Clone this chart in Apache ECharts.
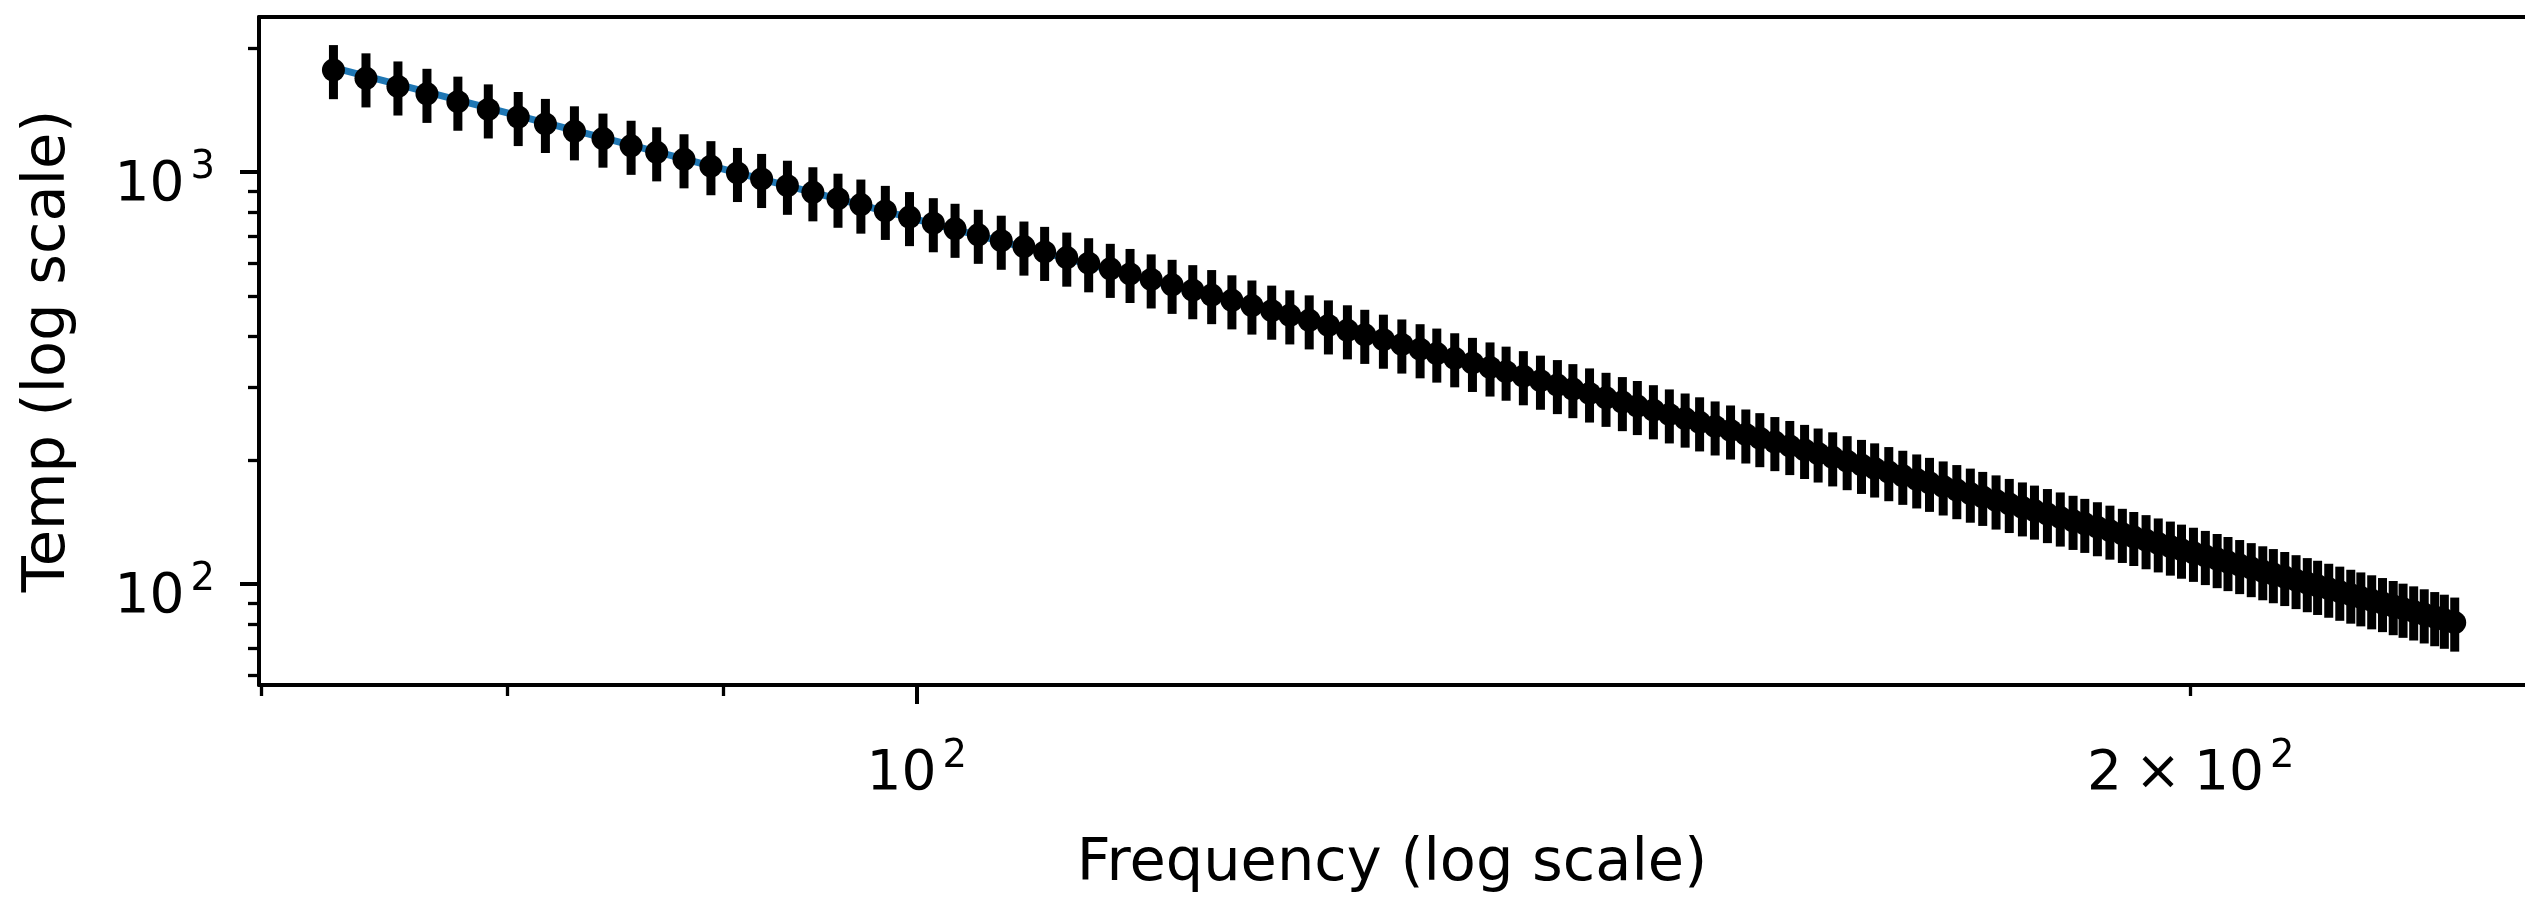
<!DOCTYPE html>
<html><head><meta charset="utf-8">
<script src="https://cdn.jsdelivr.net/npm/echarts@6/dist/echarts.min.js"></script>
<style>html,body{margin:0;padding:0;background:#fff}#c{width:2525px;height:899px}</style>
</head><body><div id="c"></div>
<script>
// ---- data ----
const freq = [72.8,74.1,75.4,76.6,77.9,79.2,80.5,81.7,83.0,84.3,
85.6,86.8,88.1,89.4,90.7,91.9,93.2,94.5,95.8,97.0,
98.3,99.6,100.9,102.1,103.4,104.7,106.0,107.2,108.5,109.8,
111.1,112.3,113.6,114.9,116.2,117.4,118.7,120.0,121.3,122.5,
123.8,125.1,126.4,127.6,128.9,130.2,131.5,132.7,134.0,135.3,
136.6,137.8,139.1,140.4,141.7,142.9,144.2,145.5,146.8,148.0,
149.3,150.6,151.9,153.1,154.4,155.7,157.0,158.2,159.5,160.8,
162.1,163.3,164.6,165.9,167.2,168.4,169.7,171.0,172.3,173.5,
174.8,176.1,177.4,178.6,179.9,181.2,182.5,183.7,185.0,186.3,
187.6,188.8,190.1,191.4,192.7,193.9,195.2,196.5,197.8,199.0,
200.3,201.6,202.9,204.1,205.4,206.7,208.0,209.2,210.5,211.8,
213.1,214.3,215.6,216.9,218.2,219.4,220.7,222.0,223.3,224.5,
225.8,227.1,228.4,229.6,230.9];
const temp = [1769.3,1689.6,1614.8,1549.7,1483.2,1420.5,1361.4,1309.7,1256.7,1206.6,
1159.2,1117.6,1074.9,1034.3,995.8,963.0,927.1,893.9,862.3,834.5,
805.6,778.2,752.0,728.9,704.9,681.9,660.0,640.6,620.5,601.2,
582.7,566.3,549.3,532.9,517.2,503.2,488.7,474.7,461.3,449.3,
436.9,424.8,413.3,403.0,392.2,381.8,371.8,362.9,353.5,344.5,
335.8,328.0,319.8,311.9,304.3,297.5,290.4,283.4,276.7,270.7,
264.4,258.3,252.4,247.1,241.5,236.1,230.9,226.2,221.3,216.5,
211.8,207.6,203.2,198.9,194.8,191.0,187.1,183.3,179.6,176.2,
172.7,169.2,165.9,162.9,159.7,156.6,153.6,150.9,148.0,145.2,
142.5,140.1,137.5,134.9,132.5,130.2,127.9,125.6,123.4,121.3,
119.2,117.1,115.1,113.2,111.3,109.4,107.5,105.8,104.1,102.3,
100.6,99.1,97.5,95.9,94.3,92.9,91.4,90.0,88.5,87.2,
85.9,84.5,83.2,82.0,80.7];
const tempErr = [265.4,253.4,242.2,232.5,222.5,213.1,204.2,196.5,188.5,181.0,
173.9,167.6,161.2,155.1,149.4,144.5,139.1,134.1,129.3,125.2,
120.8,116.7,112.8,109.3,105.7,102.3,99.0,96.1,93.1,90.2,
87.4,84.9,82.4,79.9,77.6,75.5,73.3,71.2,69.2,67.4,
65.5,63.7,62.0,60.5,58.8,57.3,55.8,54.4,53.0,51.7,
50.4,49.2,48.0,46.8,45.6,44.6,43.6,42.5,41.5,40.6,
39.7,38.7,37.9,37.1,36.2,35.4,34.6,33.9,33.2,32.5,
31.8,31.1,30.5,29.8,29.2,28.7,28.1,27.5,26.9,26.4,
25.9,25.4,24.9,24.4,24.0,23.5,23.0,22.6,22.2,21.8,
21.4,21.0,20.6,20.2,19.9,19.5,19.2,18.8,18.5,18.2,
17.9,17.6,17.3,17.0,16.7,16.4,16.1,15.9,15.6,15.3,
15.1,14.9,14.6,14.4,14.1,13.9,13.7,13.5,13.3,13.1,
12.9,12.7,12.5,12.3,12.1];
const fitFreq = [72.8, 230.9];
const fitTemp = [1795, 81.9];

const xMajorTicks = [100];
const xMinorTicks = [70, 80, 90, 200];
const xTickLabels = [100, 200];
const yMajorTicks = [100, 1000];
const yMinorTicks = [60, 70, 80, 90, 200, 300, 400, 500, 600, 700, 800, 900, 2000];
const yTickLabels = [100, 1000];

const xTitle = 'Frequency (log scale)';
const yTitle = 'Temp (log scale)';

// ---- styling ----
const FONT = 'DejaVu Sans';
const FS = 55;
const TITLE_FS = 59;
const X_MIN = 69.91, X_MAX = 239.9;
const Y_MIN = 56.93, Y_MAX = 2380.6;

function sciLabel(v) {
  const exp = Math.floor(Math.log10(v) + 1e-9);
  const mant = Math.round(v / Math.pow(10, exp));
  if (mant === 1) return '{n|10}{s|' + exp + '}';
  return '{n|' + mant + '}{m|×}{n|10}{s|' + exp + '}';
}
const rich = {
  n: {fontSize: FS, fontFamily: FONT, color: '#000', lineHeight: 55},
  m: {fontSize: FS, fontFamily: FONT, color: '#000', lineHeight: 55, padding: [0, 13, 0, 13]},
  s: {fontSize: 38.5, fontFamily: FONT, color: '#000', lineHeight: 20, verticalAlign: 'middle', padding: [0, 0, 36, 6]}
};

const chart = echarts.init(document.getElementById('c'), null, {renderer: 'canvas'});
const lineStyle = {color: '#000', width: 4};

chart.setOption({
  animation: false,
  backgroundColor: '#fff',
  grid: {left: 259, top: 17, right: -7, bottom: 204, containLabel: false},
  xAxis: [
    {type: 'log', logBase: 10, min: X_MIN, max: X_MAX, position: 'bottom',
     axisLine: {show: true, lineStyle: lineStyle},
     axisTick: {show: true, customValues: xMajorTicks, length: 19, lineStyle: {color: '#000', width: 4}},
     axisLabel: {show: true, customValues: xTickLabels, margin: 62, formatter: sciLabel, rich: rich, color: '#000'},
     splitLine: {show: false},
     name: xTitle, nameLocation: 'middle', nameGap: 150,
     nameTextStyle: {fontFamily: FONT, fontSize: TITLE_FS, color: '#000'}},
    {type: 'log', logBase: 10, min: X_MIN, max: X_MAX, position: 'bottom', gridIndex: 0,
     axisLine: {show: false},
     axisTick: {show: true, customValues: xMinorTicks, length: 11, lineStyle: {color: '#000', width: 3.3}},
     axisLabel: {show: false}, splitLine: {show: false}},
    {type: 'log', logBase: 10, min: X_MIN, max: X_MAX, position: 'top', gridIndex: 0,
     axisLine: {show: true, lineStyle: lineStyle},
     axisTick: {show: false}, axisLabel: {show: false}, splitLine: {show: false}}
  ],
  yAxis: [
    {type: 'log', logBase: 10, min: Y_MIN, max: Y_MAX, position: 'left',
     axisLine: {show: true, lineStyle: lineStyle},
     axisTick: {show: true, customValues: yMajorTicks, length: 19, lineStyle: {color: '#000', width: 4}},
     axisLabel: {show: true, customValues: yTickLabels, margin: 44, formatter: sciLabel, rich: rich, color: '#000', padding: [27, 0, 0, 0]},
     splitLine: {show: false},
     name: yTitle, nameLocation: 'middle', nameGap: 181, nameRotate: 90,
     nameTextStyle: {fontFamily: FONT, fontSize: TITLE_FS, color: '#000'}},
    {type: 'log', logBase: 10, min: Y_MIN, max: Y_MAX, position: 'left', gridIndex: 0,
     axisLine: {show: false},
     axisTick: {show: true, customValues: yMinorTicks, length: 11, lineStyle: {color: '#000', width: 3.3}},
     axisLabel: {show: false}, splitLine: {show: false}}
  ],
  series: [
    {type: 'line', xAxisIndex: 0, yAxisIndex: 0, z: 1,
     data: fitFreq.map((f, i) => [f, fitTemp[i]]),
     showSymbol: false, symbol: 'none',
     lineStyle: {color: '#1f77b4', width: 7}},
    {type: 'custom', xAxisIndex: 0, yAxisIndex: 0, z: 2,
     data: freq.map((f, i) => [f, temp[i] - tempErr[i], temp[i] + tempErr[i]]),
     encode: {x: 0, y: [1, 2]},
     renderItem: function (params, api) {
       const p1 = api.coord([api.value(0), api.value(1)]);
       const p2 = api.coord([api.value(0), api.value(2)]);
       return {type: 'line', shape: {x1: p1[0], y1: p1[1], x2: p2[0], y2: p2[1]},
               style: {stroke: '#000', lineWidth: 9}};
     }},
    {type: 'scatter', xAxisIndex: 0, yAxisIndex: 0, z: 3,
     data: freq.map((f, i) => [f, temp[i]]),
     symbol: 'circle', symbolSize: 23,
     itemStyle: {color: '#000', opacity: 1}}
  ]
});
</script>
</body></html>
